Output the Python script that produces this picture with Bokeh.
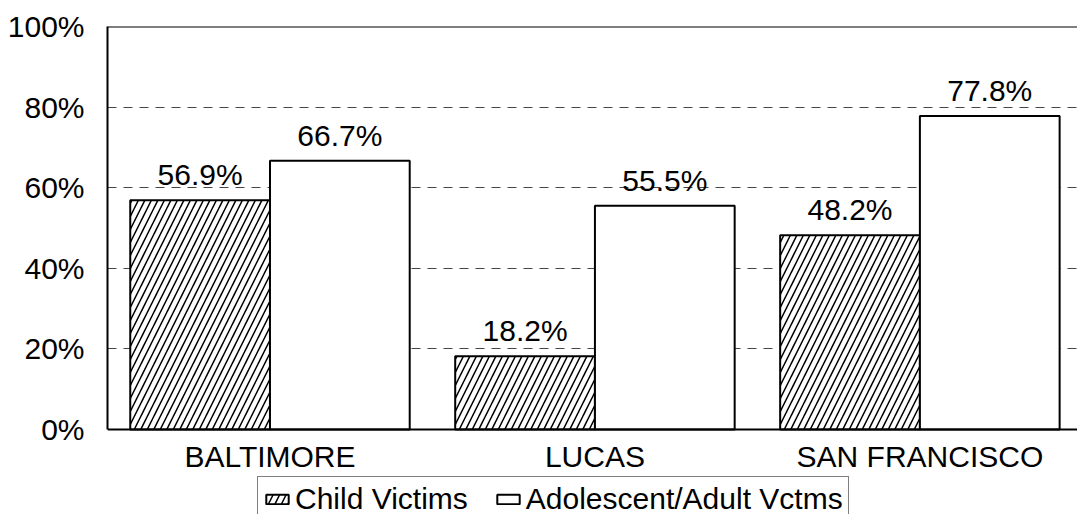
from bokeh.plotting import figure
from bokeh.models import (ColumnDataSource, Range1d, FixedTicker, Span, Legend,
                          LegendItem, LabelSet)
from bokeh.core.properties import value
from bokeh.transform import dodge
from bokeh.embed import file_html
from bokeh.resources import INLINE

# Share of victims by site
sites = ["BALTIMORE", "LUCAS", "SAN FRANCISCO"]
child_pct = [56.9, 18.2, 48.2]
adult_pct = [66.7, 55.5, 77.8]
series_names = ["Child Victims", "Adolescent/Adult Vctms"]
y_ticks = [0, 20, 40, 60, 80, 100]

FONT = "Liberation Sans"
FS = "30px"
BAR_W = 0.43

pos = list(range(len(sites)))
src = ColumnDataSource(dict(
    x=pos,
    child=child_pct,
    adult=adult_pct,
    child_lbl=[f"{v:.1f}%" for v in child_pct],
    adult_lbl=[f"{v:.1f}%" for v in adult_pct],
))

# the frame runs down to the page bottom; the value axis is bounded to 0-100
# and the category axis sits at y=0, leaving room for its labels and the key
p = figure(width=1077, height=514, output_backend="svg", toolbar_location=None,
           x_range=Range1d(-0.5, 2.485), y_range=Range1d(-21.1, 100),
           min_border_left=107, min_border_right=0, min_border_top=26,
           min_border_bottom=0)
p.outline_line_color = None
p.background_fill_color = "white"
p.border_fill_color = "white"

# horizontal dashed gridlines
p.xgrid.grid_line_color = None
p.ygrid.ticker = FixedTicker(ticks=[20, 40, 60, 80])
p.ygrid.grid_line_color = "#444444"
p.ygrid.grid_line_dash = "9 7"
p.ygrid.grid_line_width = 1.2

# top border of the plot area
p.add_layout(Span(location=100, dimension="width", line_color="black", line_width=2))

r_child = p.vbar(x=dodge("x", -BAR_W / 2), top="child", width=BAR_W, source=src,
                 fill_color="white", line_color="black", line_width=2,
                 hatch_pattern="/", hatch_color="black", hatch_scale=13,
                 hatch_weight=1.5)
r_adult = p.vbar(x=dodge("x", BAR_W / 2), top="adult", width=BAR_W, source=src,
                 fill_color="white", line_color="black", line_width=2)

# value labels above bars
for col, lbl, off in (("child", "child_lbl", -BAR_W / 2), ("adult", "adult_lbl", BAR_W / 2)):
    p.add_layout(LabelSet(x=dodge("x", off), y=col, text=lbl, source=src,
                          text_align="center", text_baseline="alphabetic",
                          y_offset=15, text_font=value(FONT),
                          text_font_size=value(FS), text_color="black"))

# axes
p.yaxis.bounds = (0, 100)
p.yaxis.ticker = FixedTicker(ticks=y_ticks)
p.yaxis.major_label_overrides = {t: f"{t}%" for t in y_ticks}
p.yaxis.major_label_text_font = FONT
p.yaxis.major_label_text_font_size = FS
p.yaxis.major_label_text_color = "black"
p.yaxis.major_label_standoff = 23
p.yaxis.major_tick_in = 0
p.yaxis.major_tick_out = 0
p.yaxis.minor_tick_line_color = None
p.yaxis.axis_line_width = 2
p.yaxis.axis_line_color = "black"

p.xaxis.fixed_location = 0
p.xaxis.ticker = FixedTicker(ticks=pos)
p.xaxis.major_label_overrides = {i: s for i, s in zip(pos, sites)}
p.xaxis.major_label_text_font = FONT
p.xaxis.major_label_text_font_size = FS
p.xaxis.major_label_text_color = "black"
p.xaxis.major_label_standoff = 11
p.xaxis.major_tick_in = 0
p.xaxis.major_tick_out = 0
p.xaxis.minor_tick_line_color = None
p.xaxis.axis_line_width = 2
p.xaxis.axis_line_color = "black"

legend = Legend(items=[LegendItem(label=series_names[0], renderers=[r_child]),
                       LegendItem(label=series_names[1], renderers=[r_adult])],
                orientation="horizontal", location=(150, -8),
                label_text_font=FONT, label_text_font_size=FS,
                label_text_color="black", glyph_width=28, glyph_height=12,
                label_standoff=4, spacing=26, padding=5, margin=0,
                border_line_color="black", border_line_width=1.5,
                background_fill_alpha=1)
p.add_layout(legend, "center")

open("out.html", "w").write(file_html(p, INLINE))
